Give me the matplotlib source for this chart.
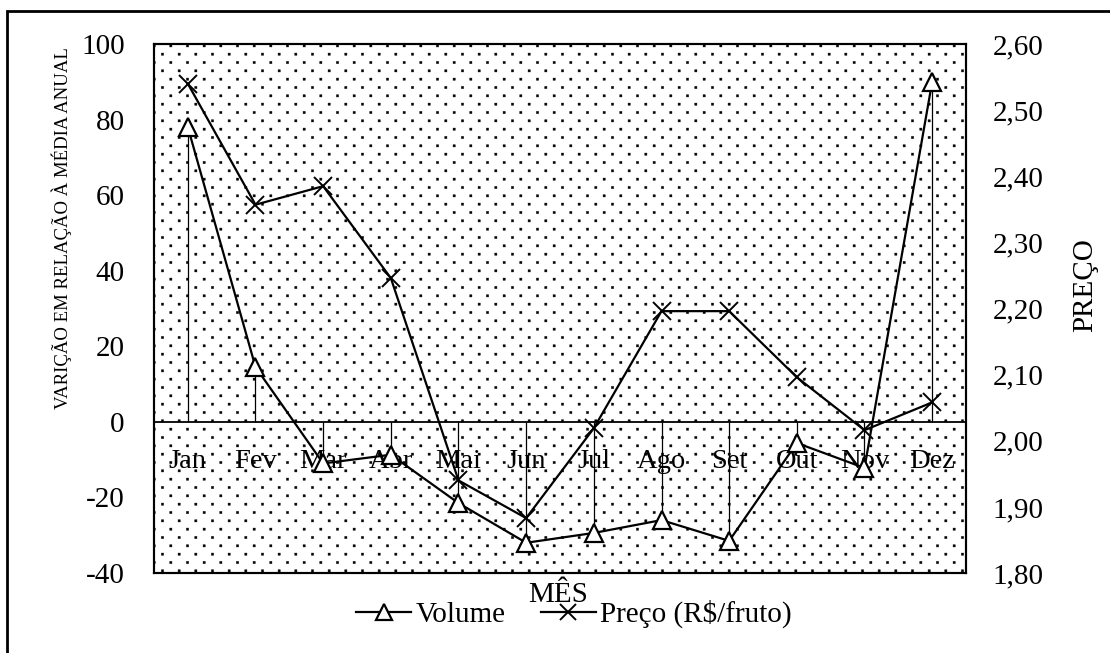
import warnings
import numpy as np
import matplotlib.pyplot as plt
import matplotlib.hatch as mhatch
from matplotlib.path import Path
from matplotlib.ticker import FuncFormatter
from matplotlib.patches import Rectangle

meses = ['Jan', 'Fev', 'Mar', 'Abr', 'Mai', 'Jun', 'Jul', 'Ago', 'Set', 'Out', 'Nov', 'Dez']
volume = [78, 14.5, -11, -8.7, -21.5, -32, -29.4, -26, -31.5, -5.6, -12.2, 90]
preco = [2.54, 2.357, 2.385, 2.246, 1.94, 1.883, 2.019, 2.196, 2.196, 2.096, 2.016, 2.058]


class DotRows(mhatch.HatchPatternBase):
    # small square dots, staggered rows (like the Excel "dotted" fill)
    cols, rows, half = 6, 12, 0.011

    def __init__(self, hatch, density):
        self.on = 'd' in hatch
        self.num_vertices = self.cols * self.rows * 5 if self.on else 0

    def set_vertices_and_codes(self, vertices, codes):
        h = self.half
        sq = np.array([[-h, -h], [h, -h], [h, h], [-h, h], [-h, -h]])
        sc = [Path.MOVETO, Path.LINETO, Path.LINETO, Path.LINETO, Path.CLOSEPOLY]
        vs, cs = [], []
        for j in range(self.rows):
            shift = 0.25 if j % 2 == 0 else 0.75
            for i in range(self.cols):
                vs.append(sq + [(i + shift) / self.cols, (j + 0.5) / self.rows])
                cs.extend(sc)
        vertices[:] = np.concatenate(vs)
        codes[:] = cs


mhatch._hatch_types.append(DotRows)
warnings.filterwarnings('ignore')

plt.rcParams['font.family'] = ['Liberation Serif', 'DejaVu Serif']
plt.rcParams['hatch.linewidth'] = 0.3
plt.rcParams['axes.unicode_minus'] = False

fig = plt.figure(figsize=(11.1, 6.53), dpi=100)
# outer frame (only left and top edges are inside the picture)
fig.add_artist(Rectangle((7/1110, -0.1), 1.2, 1.1 - 11/653, transform=fig.transFigure,
                         fill=False, edgecolor='black', lw=2))
ax = fig.add_axes([154/1110, 1-573/653, (966-154)/1110, (573-44)/653])
ax2 = ax.twinx()

x = list(range(len(meses)))

# dotted background
ax.add_patch(Rectangle((0, 0), 1, 1, transform=ax.transAxes, facecolor='white',
                       edgecolor='black', hatch='d', lw=0, zorder=0))

# drop lines from the zero line
ax.vlines(x, 0, volume, color='black', lw=0.9, zorder=2)
ax.axhline(0, color='black', lw=1.3, zorder=2)
l1, = ax.plot(x, volume, color='black', lw=1.6, marker='^', ms=13, mfc='white',
              mec='black', mew=1.6, zorder=4, label='Volume')
l2, = ax2.plot(x, preco, color='black', lw=1.6, marker='x', ms=13, mew=1.4,
               zorder=4, label='Preço (R$/fruto)')

ax.set_xlim(-0.5, 11.5)
ax.set_ylim(-40, 100)
ax2.set_ylim(1.8, 2.6)
ax.set_yticks(range(-40, 101, 20))
ax2.set_yticks([1.8 + 0.1 * i for i in range(9)])
ax2.yaxis.set_major_formatter(FuncFormatter(lambda v, p: f'{v:.2f}'.replace('.', ',')))

ax.set_xticks([])
for i, m in enumerate(meses):
    ax.text(i, -12.3, m, ha='center', va='baseline', fontsize=20.5, zorder=3)

ax.tick_params(axis='y', length=0, labelsize=21, pad=21)
ax2.tick_params(axis='y', length=0, labelsize=21, pad=19)
for s in list(ax.spines.values()) + list(ax2.spines.values()):
    s.set_linewidth(1.5)

ax.set_ylabel('VARIÇÃO EM RELAÇÃO À MÉDIA ANUAL', fontsize=13.5)
ax.yaxis.set_label_coords(62/1110, 1-228/653, transform=fig.transFigure)
ax2.set_ylabel('PREÇO', fontsize=21)
ax2.yaxis.set_label_coords(1085/1110, 1-285/653, transform=fig.transFigure)
ax.set_xlabel('MÊS', fontsize=21)
ax.xaxis.set_label_coords(558/1110, 1-595/653, transform=fig.transFigure)
ax.xaxis.label.set_va('center')
ax.yaxis.label.set_va('center')
ax2.yaxis.label.set_va('center')

leg = fig.legend(handles=[l1, l2], loc='center', bbox_to_anchor=(574/1110, 1-614/653),
                 ncol=2, frameon=False, fontsize=21, handlelength=1.9, columnspacing=1.2,
                 handletextpad=0.15, borderpad=0)
for h in leg.legend_handles:
    h.set_markersize(12)

fig.savefig('out.png', dpi=100)
